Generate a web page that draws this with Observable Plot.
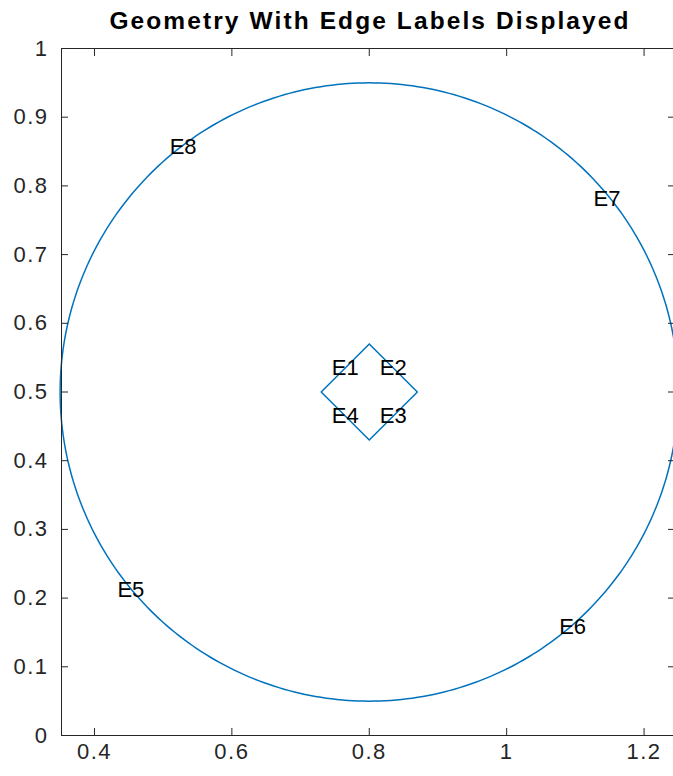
<!DOCTYPE html>
<html><head><meta charset="utf-8">
<script src="https://cdn.jsdelivr.net/npm/d3@7"></script>
<script src="https://cdn.jsdelivr.net/npm/@observablehq/plot@0.6"></script>
<style>
html,body{margin:0;padding:0;background:#fff;overflow:hidden;}
#title{position:relative;height:30px;}
#title span{position:absolute;left:370px;top:9px;transform:translateX(-50%);white-space:nowrap;font:bold 24.5px "Liberation Sans",Arial,sans-serif;letter-spacing:2.1px;line-height:24.5px;color:#000;z-index:2;}
#chart g[aria-label="x-axis tick label"] text,
#chart g[aria-label="y-axis tick label"] text{letter-spacing:1.5px;}
</style></head><body>
<div id="title"><span>Geometry With Edge Labels Displayed</span></div>
<div id="chart"></div>
<script>
// Geometry: outer circle (center, radius) and inner rotated square (vertices)
const circleCenterX = 0.8;
const circleCenterY = 0.5;
const circleRadius = 0.45;
const diamondX = [0.8, 0.87, 0.8, 0.73, 0.8];
const diamondY = [0.57, 0.5, 0.43, 0.5, 0.57];
// Edge labels
const edgeLabels = ["E1", "E2", "E3", "E4", "E5", "E6", "E7", "E8"];
const labelX = [0.765, 0.835, 0.835, 0.765, 0.453, 1.096, 1.146, 0.529];
const labelY = [0.535, 0.535, 0.465, 0.465, 0.212, 0.158, 0.781, 0.857];
// Ticks
const xTicks = [0.4, 0.6, 0.8, 1, 1.2];
const yTicks = [0, 0.1, 0.2, 0.3, 0.4, 0.5, 0.6, 0.7, 0.8, 0.9, 1];

const circlePts = d3.range(0, 361).map(a => ({
  x: circleCenterX + circleRadius * Math.cos(a * Math.PI / 180),
  y: circleCenterY + circleRadius * Math.sin(a * Math.PI / 180)
}));

const blue = "#0072BD";
const axisColor = "#262626";
const fam = '"Liberation Sans", Arial, Helvetica, sans-serif';

const chart = Plot.plot({
  width: 673,
  height: 746,
  marginLeft: 61,
  marginRight: -1,
  marginTop: 18,
  marginBottom: 41,
  style: {fontFamily: fam, fontSize: "22px", color: axisColor, background: "transparent"},
  x: {domain: [0.352, 1.2443], label: null},
  y: {domain: [0, 1], label: null},
  marks: [
    Plot.line(circlePts, {x: "x", y: "y", stroke: blue, strokeWidth: 1.5}),
    Plot.line(diamondX, {x: diamondX, y: diamondY, stroke: blue, strokeWidth: 1.5}),
    Plot.text(edgeLabels, {x: labelX, y: labelY, text: edgeLabels, fill: "#000", fontSize: 22}),
    Plot.frame({stroke: axisColor, strokeWidth: 1}),
    Plot.axisX(xTicks, {anchor: "bottom", label: null, tickSize: -7, tickPadding: 15, stroke: axisColor, fill: axisColor, fontSize: 22, tickFormat: d => String(d)}),
    Plot.axisX(xTicks, {anchor: "top", label: null, tickSize: -7, stroke: axisColor, tickFormat: () => ""}),
    Plot.axisY(yTicks, {anchor: "left", label: null, tickSize: -7, tickPadding: 20, stroke: axisColor, fill: axisColor, fontSize: 22, tickFormat: d => String(d)}),
    Plot.axisY(yTicks, {anchor: "right", label: null, tickSize: -7, stroke: axisColor, tickFormat: () => ""})
  ]
});
document.getElementById("chart").appendChild(chart);
</script>
</body></html>
